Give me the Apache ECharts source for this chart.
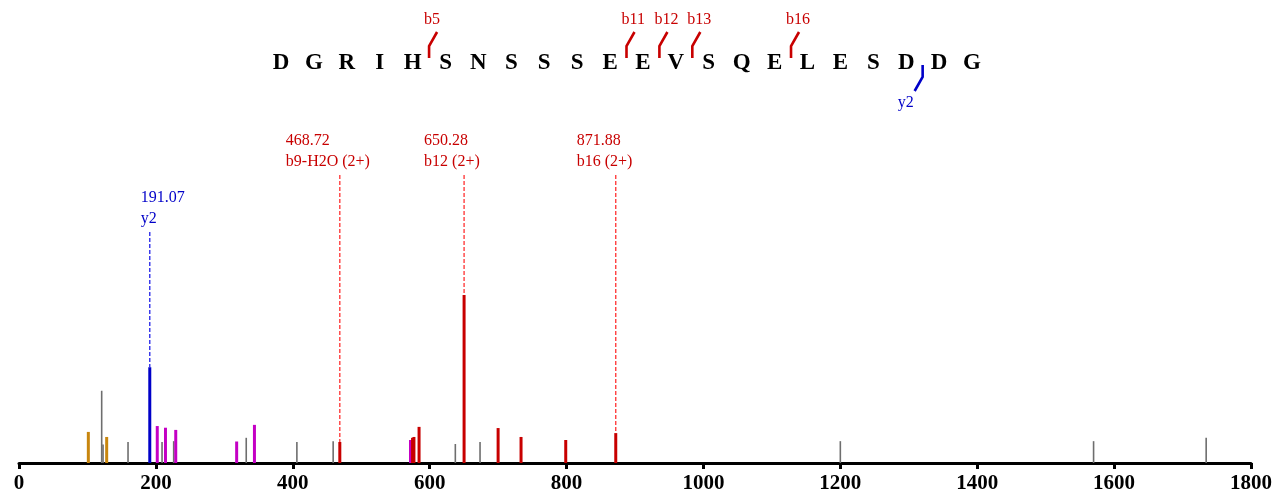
<!DOCTYPE html>
<html><head><meta charset="utf-8">
<script src="https://cdn.jsdelivr.net/npm/echarts@6/dist/echarts.min.js"></script>
<style>html,body{margin:0;padding:0;background:#fff}#c{width:1275px;height:497px}</style>
</head><body><div id="c"></div>
<script>
// ---- data ----
const sequence = ['D','G','R','I','H','S','N','S','S','S','E','E','V','S','Q','E','L','E','S','D','D','G'];
const bIons = [5, 11, 12, 13, 16];
const yIons = [2];

const xTicks = [0, 200, 400, 600, 800, 1000, 1200, 1400, 1600, 1800];

const grayPeaks = [[120.8,43],[122.8,11],[159.3,12.5],[209,12.5],[226,13],[332,15],[406,12.5],[459,13],[637.5,11.3],[673.6,12.5],[1200,13],[1570,13],[1734.5,15]];
const orangePeaks = [[101.3,18.5],[128.1,15.5]];
const magentaPeaks = [[202,22],[214,21],[229,19.7],[318,12.8],[344,22.7],[572,13.7]];
const bluePeaks = [[191.07,57]];
const redPeaks = [[468.72,12.5],[575,15],[577,15.5],[584.5,21.5],[650.28,100],[700,20.8],[733.5,15.5],[798.8,13.7],[871.88,17.8]];

const annotMz = [191.07, 468.72, 650.28, 871.88];
const annotIntensity = [57, 12.5, 100, 17.8];
const annotName = ['y2', 'b9-H2O (2+)', 'b12 (2+)', 'b16 (2+)'];
const annotKind = ['y', 'b', 'b', 'b'];

// ---- styles ----
const SERIF = "'Liberation Serif','Times New Roman',serif";
const RED = '#c80000', BLUE = '#0000c8';
const annotTopPx = [232, 175, 175, 175];
const annotDx = [-9, -54, -40, -39];

function peakSeries(data, color, width) {
  return {
    type: 'custom', xAxisIndex: 0, yAxisIndex: 0, data: data, silent: true, z: 2,
    encode: {x: 0, y: 1},
    renderItem: function (params, api) {
      const p0 = api.coord([api.value(0), 0]);
      const p1 = api.coord([api.value(0), api.value(1)]);
      return {type: 'rect', shape: {x: p0[0] - width / 2, y: p1[1], width: width, height: p0[1] - p1[1]}, style: {fill: color}};
    }
  };
}

const annotData = annotMz.map((m, i) => [m, annotIntensity[i], i]);
const annotSeries = {
  type: 'custom', xAxisIndex: 0, yAxisIndex: 0, data: annotData, silent: true, z: 3,
  encode: {x: 0, y: 1},
  renderItem: function (params, api) {
    const i = api.value(2);
    const p = api.coord([api.value(0), api.value(1)]);
    const col = annotKind[i] === 'y' ? BLUE : RED;
    const lineCol = annotKind[i] === 'y' ? '#2020e8' : '#ff3030';
    const top = annotTopPx[i];
    const tx = p[0] + annotDx[i];
    return {type: 'group', children: [
      {type: 'line', shape: {x1: p[0], y1: top, x2: p[0], y2: p[1]}, style: {stroke: lineCol, lineWidth: 1.3, lineDash: [4, 2]}},
      {type: 'text', style: {text: annotMz[i].toFixed(2), x: tx, y: top - 34, fill: col, font: '16px ' + SERIF, align: 'left', verticalAlign: 'middle', textAlign: 'left', textVerticalAlign: 'middle'}},
      {type: 'text', style: {text: annotName[i], x: tx, y: top - 13, fill: col, font: '16px ' + SERIF, align: 'left', verticalAlign: 'middle', textAlign: 'left', textVerticalAlign: 'middle'}}
    ]};
  }
};

const seqSeries = {
  type: 'custom', xAxisIndex: 1, yAxisIndex: 1, silent: true,
  data: sequence.map((s, i) => [i, 63]),
  encode: {x: 0, y: 1},
  renderItem: function (params, api) {
    const p = api.coord([api.value(0), api.value(1)]);
    return {type: 'text', style: {text: sequence[params.dataIndex], x: p[0], y: p[1], fill: '#000', font: 'bold 23px ' + SERIF, align: 'center', verticalAlign: 'middle', textAlign: 'center', textVerticalAlign: 'middle'}};
  }
};

const fragData = bIons.map(k => [k - 0.5, 58, 0, k]).concat(yIons.map(k => [sequence.length - k - 0.5, 65, 1, k]));
const fragSeries = {
  type: 'custom', xAxisIndex: 1, yAxisIndex: 1, silent: true, data: fragData,
  encode: {x: 0, y: 1},
  renderItem: function (params, api) {
    const p = api.coord([api.value(0), api.value(1)]);
    const isY = api.value(2) === 1;
    const k = api.value(3);
    if (!isY) {
      return {type: 'group', children: [
        {type: 'polyline', shape: {points: [[p[0], p[1]], [p[0], p[1] - 12], [p[0] + 8, p[1] - 26]]}, style: {stroke: RED, lineWidth: 2.6, fill: null}},
        {type: 'text', style: {text: 'b' + k, x: p[0] - 5, y: p[1] - 38, fill: RED, font: '16px ' + SERIF, align: 'left', verticalAlign: 'middle', textAlign: 'left', textVerticalAlign: 'middle'}}
      ]};
    }
    return {type: 'group', children: [
      {type: 'polyline', shape: {points: [[p[0], p[1]], [p[0], p[1] + 12], [p[0] - 8, p[1] + 26]]}, style: {stroke: BLUE, lineWidth: 2.6, fill: null}},
      {type: 'text', style: {text: 'y' + k, x: p[0] - 9, y: p[1] + 38, fill: BLUE, font: '16px ' + SERIF, align: 'right', verticalAlign: 'middle', textAlign: 'right', textVerticalAlign: 'middle'}}
    ]};
  }
};

const chart = echarts.init(document.getElementById('c'), null, {renderer: 'canvas'});
chart.setOption({
  animation: false,
  backgroundColor: '#fff',
  grid: [
    {left: 19, right: 24, top: 127, bottom: 34, outerBoundsMode: 'none', containLabel: false},
    {left: 281, width: 691, top: 0, height: 120, outerBoundsMode: 'none', containLabel: false}
  ],
  xAxis: [
    {type: 'value', gridIndex: 0, min: xTicks[0], max: xTicks[xTicks.length - 1], interval: xTicks[1] - xTicks[0],
      axisLine: {show: true, onZero: false, lineStyle: {color: '#000', width: 3}},
      axisTick: {show: true, length: 6, lineStyle: {color: '#000', width: 3}},
      axisLabel: {color: '#000', fontFamily: SERIF, fontWeight: 'bold', fontSize: 21, margin: 10,
        formatter: v => xTicks.includes(v) ? String(v) : ''},
      splitLine: {show: false}},
    {type: 'value', gridIndex: 1, min: 0, max: sequence.length - 1, show: false}
  ],
  yAxis: [
    {type: 'value', gridIndex: 0, min: 0, max: 200, show: false},
    {type: 'value', gridIndex: 1, min: 0, max: 120, inverse: true, show: false}
  ],
  series: [
    peakSeries(grayPeaks, '#6e6e6e', 1.6),
    peakSeries(orangePeaks, '#c8860e', 3),
    peakSeries(magentaPeaks, '#c400c4', 3),
    peakSeries(bluePeaks, '#0000c8', 3),
    peakSeries(redPeaks, '#c80000', 3),
    annotSeries,
    seqSeries,
    fragSeries
  ]
});
</script>
</body></html>
